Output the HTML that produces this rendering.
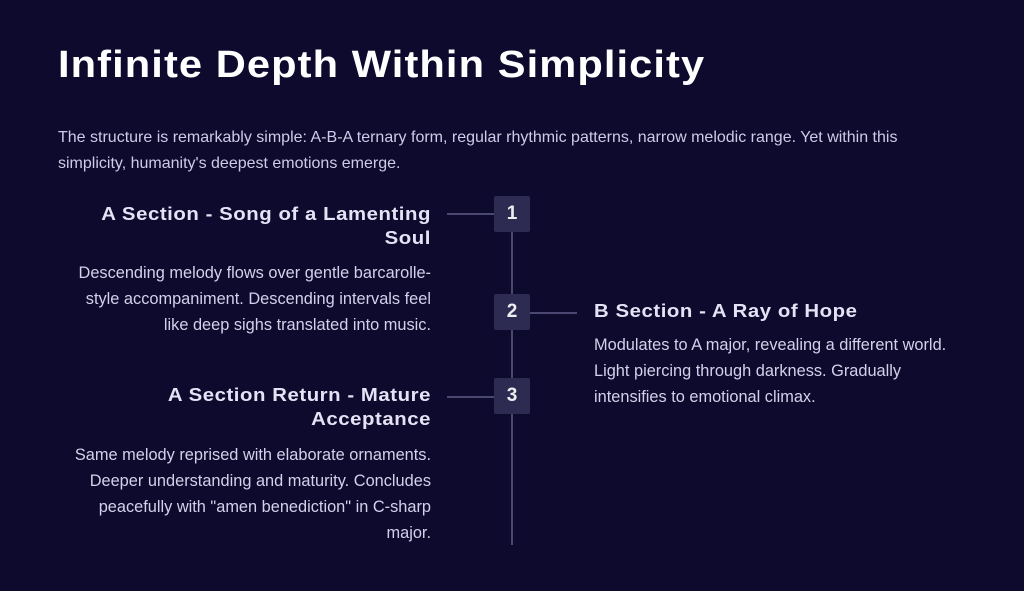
<!DOCTYPE html>
<html><head><style>
body{margin:0;width:1024px;height:591px;background:#0d0a2e;font-family:"Liberation Sans",sans-serif;position:relative;overflow:hidden;color:#d4d0ea}
h1{position:absolute;left:58px;top:44px;margin:0;font-size:38px;font-weight:bold;color:#fff;letter-spacing:1px;transform:scaleX(1.095);transform-origin:left;white-space:nowrap}
.p{position:absolute;font-size:16.35px;line-height:26px}
.h{position:absolute;font-size:18px;font-weight:bold;color:#e6e2f6;line-height:24px;letter-spacing:0.5px;white-space:nowrap}
.h div{transform:scaleX(1.13)}
.r{text-align:right}
.r.h div{transform-origin:right}
.l.h div{transform-origin:left}
.box{position:absolute;left:494px;width:36px;height:36px;background:#2e2b52;border-radius:2px;color:#eee;font-weight:bold;font-size:19px;text-align:center;line-height:36px}
.ln{position:absolute;background:#4a4770}
</style></head><body>
<h1>Infinite Depth Within Simplicity</h1>
<div class="p" style="left:58px;top:125px;width:900px;color:#cfcbe6;font-size:16px">The structure is remarkably simple: A-B-A ternary form, regular rhythmic patterns, narrow melodic range. Yet within this simplicity, humanity's deepest emotions emerge.</div>
<div class="ln" style="left:511px;top:232px;width:2px;height:313px"></div>
<div class="ln" style="left:447px;top:213px;width:47px;height:2px"></div>
<div class="ln" style="left:530px;top:312px;width:47px;height:2px"></div>
<div class="ln" style="left:447px;top:396px;width:47px;height:2px"></div>
<div class="box" style="top:196px">1</div>
<div class="box" style="top:294px">2</div>
<div class="box" style="top:378px">3</div>
<div class="h r" style="left:60px;width:371px;top:202px"><div>A Section - Song of a Lamenting</div><div>Soul</div></div>
<div class="p r" style="left:30px;width:401px;top:260px">Descending melody flows over gentle barcarolle-<br>style accompaniment. Descending intervals feel<br>like deep sighs translated into music.</div>
<div class="h l" style="left:594px;width:400px;top:299px"><div>B Section - A Ray of Hope</div></div>
<div class="p" style="left:594px;width:420px;top:332px">Modulates to A major, revealing a different world.<br>Light piercing through darkness. Gradually<br>intensifies to emotional climax.</div>
<div class="h r" style="left:60px;width:371px;top:383px"><div>A Section Return - Mature</div><div>Acceptance</div></div>
<div class="p r" style="left:30px;width:401px;top:442px">Same melody reprised with elaborate ornaments.<br>Deeper understanding and maturity. Concludes<br>peacefully with "amen benediction" in C-sharp<br>major.</div>
</body></html>
